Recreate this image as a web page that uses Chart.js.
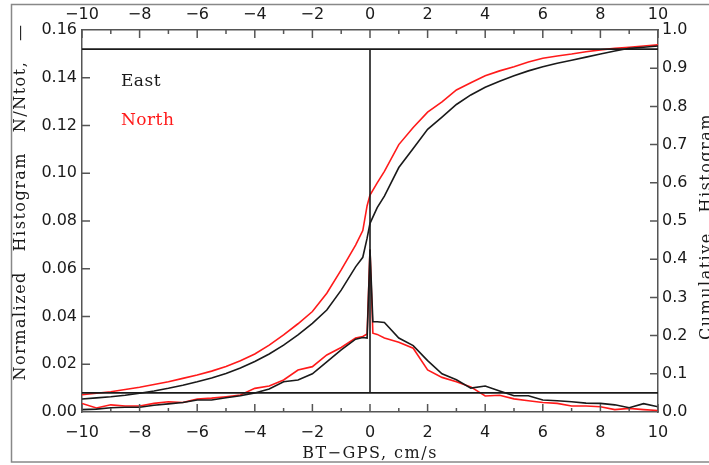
<!DOCTYPE html>
<html>
<head>
<meta charset="utf-8">
<script src="https://cdn.jsdelivr.net/npm/chart.js@4.4.1/dist/chart.umd.min.js"></script>
<style>
  html, body { margin: 0; padding: 0; background: #fff; }
  #wrap { width: 709px; height: 465px; position: relative; }
</style>
</head>
<body>
<div id="wrap"><canvas id="chart"></canvas></div>
<script>
// histogram (left axis), bin centres in cm/s
const histX = [-10, -9.5, -9, -8.5, -8, -7.5, -7, -6.5, -6, -5.5, -5, -4.5, -4, -3.5, -3, -2.5, -2, -1.5, -1, -0.5, -0.25, -0.1, 0,
  0.1, 0.25, 0.5, 1, 1.5, 2, 2.5, 3, 3.5, 4, 4.5, 5, 5.5, 6, 6.5, 7, 7.5, 8, 8.5, 9, 9.5, 10]
const histEast = [0.0010, 0.0012, 0.0018, 0.0020, 0.0020, 0.0028, 0.0034, 0.0040, 0.0050, 0.0050, 0.0060, 0.0068, 0.0080, 0.0096, 0.0127, 0.0134, 0.0160, 0.0210, 0.0260, 0.0305, 0.0312, 0.0310, 0.0680,
  0.0378, 0.0378, 0.0375, 0.0310, 0.0278, 0.0215, 0.0160, 0.0135, 0.0100, 0.0109, 0.0088, 0.0068, 0.0068, 0.0050, 0.0047, 0.0043, 0.0037, 0.0036, 0.0030, 0.0018, 0.0035, 0.0022]
const histNorth = [0.0036, 0.0017, 0.0030, 0.0025, 0.0025, 0.0036, 0.0043, 0.0040, 0.0054, 0.0058, 0.0064, 0.0071, 0.0099, 0.0109, 0.0134, 0.0176, 0.0190, 0.0239, 0.0270, 0.0310, 0.0316, 0.0327, 0.0680,
  0.0330, 0.0325, 0.0310, 0.0292, 0.0267, 0.0176, 0.0145, 0.0127, 0.0105, 0.0067, 0.0070, 0.0055, 0.0047, 0.0040, 0.0036, 0.0025, 0.0025, 0.0022, 0.0010, 0.0015, 0.0010, 0.0006]

// cumulative histogram (right axis)
const cumX = [-10, -9.5, -9, -8.5, -8, -7.5, -7, -6.5, -6, -5.5, -5, -4.5, -4, -3.5, -3, -2.5, -2, -1.5, -1, -0.5, -0.25, -0.1, 0,
  0.25, 0.5, 1, 1.5, 2, 2.5, 3, 3.5, 4, 4.5, 5, 5.5, 6, 6.5, 7, 7.5, 8, 8.5, 9, 9.5, 10]
const cumEast = [0.034, 0.037, 0.040, 0.044, 0.049, 0.055, 0.062, 0.070, 0.079, 0.089, 0.101, 0.115, 0.132, 0.152, 0.175, 0.202, 0.232, 0.267, 0.319, 0.380, 0.405, 0.455, 0.494,
  0.535, 0.565, 0.640, 0.690, 0.740, 0.772, 0.805, 0.830, 0.850, 0.866, 0.880, 0.893, 0.904, 0.913, 0.921, 0.929, 0.937, 0.945, 0.952, 0.955, 0.958]
const cumNorth = [0.045, 0.049, 0.053, 0.059, 0.065, 0.072, 0.079, 0.088, 0.097, 0.107, 0.119, 0.134, 0.152, 0.175, 0.202, 0.231, 0.263, 0.311, 0.372, 0.437, 0.475, 0.540, 0.568,
  0.600, 0.630, 0.700, 0.745, 0.785, 0.812, 0.843, 0.862, 0.880, 0.893, 0.904, 0.916, 0.926, 0.932, 0.937, 0.943, 0.948, 0.952, 0.955, 0.958, 0.961]

// 5% / 95% marks on the cumulative axis and the zero line
const refLevels = [0.05, 0.95]
const refX = [-10, 10]

const legendLabels = ['East', 'North']
const BLACK = '#1a1a1a'
const RED = '#ff1a1a'
const AXIS = '#555'

const pts = (xs, ys) => xs.map((x, i) => ({ x, y: ys[i] }))
const minus = v => String(v).replace('-', '\u2212')
const tickFont = { family: 'DejaVu Sans', size: 16 }

const line = (data, color, axis) => ({
  data, borderColor: color, borderWidth: 1.6, pointRadius: 0, tension: 0, yAxisID: axis
})

const decor = {
  id: 'decor',
  beforeDraw(chart) {
    const ctx = chart.ctx
    ctx.save()
    ctx.fillStyle = '#fff'
    ctx.fillRect(0, 0, chart.width, chart.height)
    ctx.strokeStyle = '#888'
    ctx.lineWidth = 1.5
    ctx.strokeRect(11.5, 4.5, 720, 457.5)
    ctx.restore()
  },
  afterDraw(chart) {
    const { ctx, chartArea: a, scales } = chart
    ctx.save()
    ctx.strokeStyle = AXIS
    ctx.lineWidth = 1.5
    ctx.beginPath()
    for (let v = -10; v <= 10; v++) {
      const px = scales.x.getPixelForValue(v)
      const len = v % 2 === 0 ? 8 : 4
      ctx.moveTo(px, a.bottom); ctx.lineTo(px, a.bottom - len)
      ctx.moveTo(px, a.top); ctx.lineTo(px, a.top + len)
    }
    for (let i = 1; i < 8; i++) {
      const py = scales.y.getPixelForValue(i * 0.02)
      ctx.moveTo(a.left, py); ctx.lineTo(a.left + 8, py)
    }
    for (let i = 1; i < 10; i++) {
      const py = scales.y2.getPixelForValue(i * 0.1)
      ctx.moveTo(a.right, py); ctx.lineTo(a.right - 8, py)
    }
    ctx.stroke()

    // legend text
    ctx.textAlign = 'left'
    ctx.textBaseline = 'middle'
    ctx.font = '17px "DejaVu Serif"'
    ctx.letterSpacing = '0.5px'
    const lx = scales.x.getPixelForValue(-8.65)
    ctx.fillStyle = BLACK
    ctx.fillText(legendLabels[0], lx, scales.y.getPixelForValue(0.1385))
    ctx.fillStyle = RED
    ctx.fillText(legendLabels[1], lx, scales.y.getPixelForValue(0.1222))

    // axis titles
    ctx.fillStyle = BLACK
    ctx.font = '16px "DejaVu Serif"'
    ctx.letterSpacing = '1.5px'
    ctx.textAlign = 'center'
    ctx.textBaseline = 'alphabetic'
    ctx.fillText('BT\u2212GPS, cm/s', (a.left + a.right) / 2, 458)

    ctx.save()
    ctx.translate(13, 202)
    ctx.rotate(-Math.PI / 2)
    ctx.textBaseline = 'top'
    ctx.fillText('Normalized   Histogram   N/Ntot,   \u2014', 0, 0)
    ctx.restore()

    ctx.save()
    ctx.translate(699, 340)
    ctx.rotate(-Math.PI / 2)
    ctx.textAlign = 'left'
    ctx.textBaseline = 'top'
    ctx.fillText('Cumulative   Histogram', 0, 0)
    ctx.restore()
    ctx.restore()
  }
}

const noGrid = { display: false, drawTicks: false }
const axisLine = { display: true, color: AXIS, width: 1.5 }

new Chart(document.getElementById('chart'), {
  type: 'line',
  data: {
    datasets: [
      line(pts(refX, [refLevels[0], refLevels[0]]), BLACK, 'y2'),
      line(pts(refX, [refLevels[1], refLevels[1]]), BLACK, 'y2'),
      line(pts([0, 0], refLevels), BLACK, 'y2'),
      line(pts(histX, histEast), BLACK, 'y'),
      line(pts(histX, histNorth), RED, 'y'),
      line(pts(cumX, cumEast), BLACK, 'y2'),
      line(pts(cumX, cumNorth), RED, 'y2')
    ]
  },
  options: {
    responsive: true,
    maintainAspectRatio: false,
    animation: false,
    layout: { padding: 0 },
    plugins: { legend: { display: false }, tooltip: { enabled: false } },
    scales: {
      x: {
        type: 'linear', position: 'bottom', min: -10, max: 10,
        grid: noGrid, border: axisLine,
        ticks: { stepSize: 2, padding: 11, color: BLACK, font: tickFont, maxRotation: 0, callback: v => minus(v) },
        afterFit: s => { s.height = 53 }
      },
      x2: {
        type: 'linear', position: 'top', min: -10, max: 10,
        grid: noGrid, border: axisLine,
        ticks: { stepSize: 2, padding: 6, color: BLACK, font: tickFont, maxRotation: 0, callback: v => minus(v) },
        afterFit: s => { s.height = 30 }
      },
      y: {
        position: 'left', min: 0, max: 0.16,
        grid: noGrid, border: axisLine,
        ticks: { stepSize: 0.02, padding: 5, color: BLACK, font: tickFont, callback: v => v.toFixed(2) },
        afterFit: s => { s.width = 82 }
      },
      y2: {
        position: 'right', min: 0, max: 1,
        grid: noGrid, border: axisLine,
        ticks: { stepSize: 0.1, padding: 4, color: BLACK, font: tickFont, callback: v => v.toFixed(1) },
        afterFit: s => { s.width = 51 }
      }
    }
  },
  plugins: [decor]
})
</script>
</body>
</html>
